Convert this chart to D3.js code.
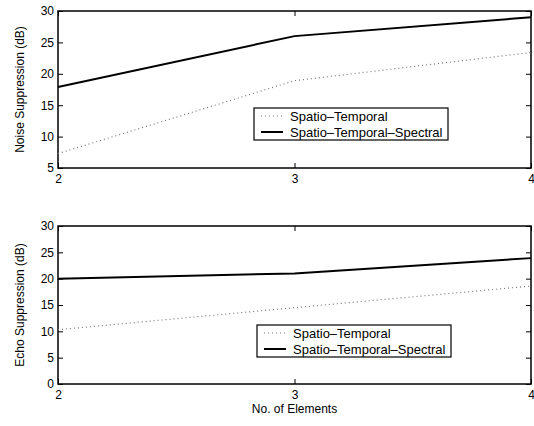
<!DOCTYPE html>
<style>
  body { margin: 0; background: #fff; }
  svg { font-family: "Liberation Sans", Arial, sans-serif; }
</style>
<svg width="534" height="426"></svg>
<script src="https://d3js.org/d3.v7.min.js"></script>
<script>

var elements = [2, 3, 4];
var noiseST = [7.3, 18.9, 23.4];
var noiseSTS = [17.9, 26.0, 29.0];
var echoST = [10.3, 14.5, 18.6];
var echoSTS = [20.0, 21.0, 23.9];
var noiseTicks = [5, 10, 15, 20, 25, 30];
var echoTicks = [0, 5, 10, 15, 20, 25, 30];
var seriesNames = ["Spatio\u2013Temporal", "Spatio\u2013Temporal\u2013Spectral"];

var svg = d3.select("svg"),
    left = 58, right = 531;

var x = d3.scaleLinear().domain([2, 4]).range([left, right]);

function panel(top, bottom, yDomain, yTicks, st, sts, ylabel, legendBox) {
  var y = d3.scaleLinear().domain(yDomain).range([bottom, top]);
  var g = svg.append("g");

  // box ticks (inward, MATLAB style)
  g.append("g")
      .attr("transform", "translate(" + left + ",0)")
      .call(d3.axisLeft(y).tickValues(yTicks).tickSize(-5).tickPadding(4).tickFormat(d3.format("d")))
      .call(styleAxis);
  g.append("g")
      .attr("transform", "translate(" + right + ",0)")
      .call(d3.axisRight(y).tickValues(yTicks).tickSize(-5).tickFormat(""))
      .call(styleAxis);
  g.append("g")
      .attr("transform", "translate(0," + bottom + ")")
      .call(d3.axisBottom(x).tickValues(elements).tickSize(-5).tickPadding(6).tickFormat(d3.format("d")))
      .call(styleAxis);
  g.append("g")
      .attr("transform", "translate(0," + top + ")")
      .call(d3.axisTop(x).tickValues(elements).tickSize(-5).tickFormat(""))
      .call(styleAxis);

  g.append("rect")
      .attr("x", left).attr("y", top)
      .attr("width", right - left).attr("height", bottom - top)
      .attr("fill", "none").attr("stroke", "#000").attr("stroke-width", 1.5);

  var line = d3.line()
      .x(function(d, i) { return x(elements[i]); })
      .y(function(d) { return y(d); });

  g.append("path").datum(st)
      .attr("fill", "none").attr("stroke", "#777")
      .attr("stroke-width", 1.2).attr("stroke-dasharray", "1,3")
      .attr("d", line);
  g.append("path").datum(sts)
      .attr("fill", "none").attr("stroke", "#000")
      .attr("stroke-width", 2)
      .attr("d", line);

  g.append("text")
      .attr("transform", "translate(24," + ((top + bottom) / 2) + ") rotate(-90)")
      .attr("text-anchor", "middle")
      .attr("font-size", 12)
      .text(ylabel);

  // legend
  var lg = g.append("g").attr("transform", "translate(" + legendBox[0] + "," + legendBox[1] + ")");
  lg.append("rect")
      .attr("width", legendBox[2]).attr("height", legendBox[3])
      .attr("fill", "#fff").attr("stroke", "#000").attr("stroke-width", 1.2);
  seriesNames.forEach(function(name, i) {
    var yy = 8 + i * 16;
    lg.append("line")
        .attr("x1", 7).attr("x2", 29).attr("y1", yy).attr("y2", yy)
        .attr("stroke", i ? "#000" : "#777")
        .attr("stroke-width", i ? 2 : 1.2)
        .attr("stroke-dasharray", i ? null : "1,3");
    lg.append("text")
        .attr("x", 36).attr("y", yy + 4.5)
        .attr("font-size", 13)
        .text(name);
  });
}

function styleAxis(sel) {
  sel.select(".domain").remove();
  sel.selectAll(".tick line").attr("stroke", "#000").attr("stroke-width", 1);
  sel.selectAll(".tick text").attr("font-size", 12).attr("fill", "#000")
      .attr("font-family", "Liberation Sans, Arial, sans-serif");
}

panel(11, 168, [5, 30], noiseTicks, noiseST, noiseSTS, "Noise Suppression (dB)", [254, 108, 194, 32]);
panel(226, 384, [0, 30], echoTicks, echoST, echoSTS, "Echo Suppression (dB)", [257, 325, 194, 32]);

svg.append("text")
    .attr("x", (left + right) / 2).attr("y", 413)
    .attr("text-anchor", "middle")
    .attr("font-size", 12)
    .text("No. of Elements");

</script>
